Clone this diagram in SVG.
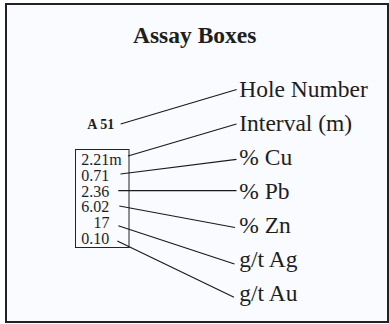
<svg xmlns="http://www.w3.org/2000/svg" width="389" height="324" viewBox="0 0 389 324">
<style>
text{font-family:"Liberation Serif","Times New Roman",serif;fill:#1e1e1e}
.lbl{font-size:23.5px}
.num{font-size:16px}
.ln{stroke:#1a1a1a;stroke-width:1.2;fill:none}
</style>
<rect x="0" y="0" width="389" height="324" fill="#ffffff"/>
<rect x="6" y="4" width="382" height="318" fill="#f9fbfe" stroke="#222" stroke-width="2"/>
<g id="title"><text x="133" y="43.3" font-size="23.5" font-weight="bold">Assay Boxes</text></g>
<g id="hole"><text x="87.3" y="128.7" font-size="14" font-weight="bold">A 51</text></g>
<g id="box">
<rect x="75.5" y="149.5" width="53.5" height="98" fill="none" stroke="#222" stroke-width="1"/>
<text class="num" x="81.3" y="165">2.21m</text>
<text class="num" x="81.3" y="180.7">0.71</text>
<text class="num" x="81.3" y="196.5">2.36</text>
<text class="num" x="81.3" y="212.3">6.02</text>
<text class="num" x="93.5" y="228.3">17</text>
<text class="num" x="81.3" y="244">0.10</text>
</g>
<g id="labels">
<text class="lbl" x="239.3" y="96.7">Hole Number</text>
<text class="lbl" x="239.3" y="131">Interval (m)</text>
<text class="lbl" x="239.3" y="165">% Cu</text>
<text class="lbl" x="239.3" y="199">% Pb</text>
<text class="lbl" x="239.3" y="233.3">% Zn</text>
<text class="lbl" x="239.3" y="266.7">g/t Ag</text>
<text class="lbl" x="239.3" y="300.7">g/t Au</text>
</g>
<g id="connectors" class="ln">
<line class="ln" x1="120.7" y1="124" x2="236.7" y2="89.5"/>
<line class="ln" x1="128" y1="156" x2="236.5" y2="124"/>
<line class="ln" x1="120.5" y1="174" x2="236.5" y2="159.3"/>
<line class="ln" x1="118.3" y1="190.7" x2="236.5" y2="190.7"/>
<line class="ln" x1="119.3" y1="206" x2="235" y2="227.5"/>
<line class="ln" x1="118.3" y1="225.7" x2="234.5" y2="264"/>
<line class="ln" x1="117.3" y1="241" x2="234" y2="297.3"/>
</g>
</svg>
